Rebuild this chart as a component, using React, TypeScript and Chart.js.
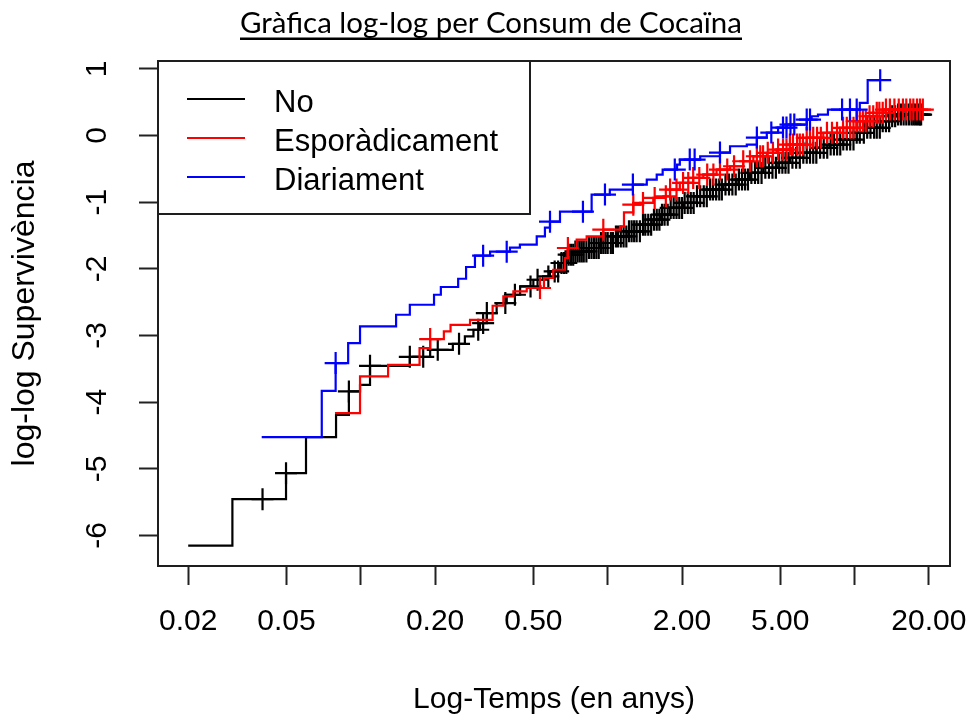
import React, { useEffect, useRef } from 'react';
import { Chart, registerables } from 'chart.js';

Chart.register(...registerables);

const FONT = '"Liberation Sans", Arial, Helvetica, sans-serif';

const chartTitle = 'Gràfica log-log per Consum de Cocaïna';
const xTitle = 'Log-Temps (en anys)';
const yTitle = 'log-log Supervivència';
const groups = ['No', 'Esporàdicament', 'Diariament'];
const colors = ['#000000', '#FF0000', '#0000FF'];

const xTicks = [0.02, 0.05, 0.1, 0.2, 0.5, 1, 2, 5, 10, 20];
const xTickLabels = ['0.02', '0.05', '', '0.20', '0.50', '', '2.00', '5.00', '', '20.00'];
const yTicks = [-6, -5, -4, -3, -2, -1, 0, 1];

// "No" group: step start times (years) and log-log survival values
const noTimes = [0.02, 0.0302, 0.0498, 0.06, 0.0794, 0.0895, 0.0993, 0.109, 0.158, 0.191, 0.236, 0.264, 0.286, 0.304, 0.324, 0.355, 0.39, 0.442, 0.5, 0.548, 0.584, 0.641, 0.682, 0.726, 0.822, 0.931, 1.054, 1.194, 1.352, 1.53, 1.629, 1.788, 2.024, 2.294, 2.596, 2.94, 3.33, 3.77, 4.27, 4.84, 5.47, 6.2, 7.02, 7.95, 9.0, 10.2, 11.2, 12.7, 13.9, 14.8];
const noValues = [-6.153, -5.456, -5.066, -4.526, -4.191, -3.84, -3.74, -3.455, -3.32, -3.215, -3.125, -3.015, -2.914, -2.814, -2.664, -2.514, -2.389, -2.264, -2.164, -2.114, -2.039, -1.913, -1.788, -1.739, -1.688, -1.613, -1.514, -1.438, -1.338, -1.263, -1.188, -1.087, -1.012, -0.913, -0.812, -0.737, -0.662, -0.562, -0.486, -0.411, -0.336, -0.261, -0.186, -0.137, -0.062, 0.039, 0.114, 0.213, 0.288, 0.314];
const noEnd = 18.6;
const noCensor = [0.04, 0.0498, 0.0895, 0.109, 0.158, 0.179, 0.205, 0.25, 0.299, 0.313, 0.324, 0.385, 0.421, 0.487, 0.52, 0.575, 0.61, 0.63, 0.65, 0.665, 0.68, 0.695, 0.71, 0.725, 0.74, 0.755, 0.77, 0.785, 0.8, 0.82, 0.84, 0.86, 0.88, 0.9, 0.92, 0.94, 0.96, 0.98, 1.0, 1.03, 1.05, 1.08, 1.1, 1.13, 1.16, 1.19, 1.22, 1.25, 1.28, 1.31, 1.35, 1.39, 1.42, 1.46, 1.5, 1.54, 1.58, 1.62, 1.66, 1.7, 1.75, 1.8, 1.85, 1.9, 1.95, 2.0, 2.05, 2.11, 2.17, 2.23, 2.3, 2.37, 2.45, 2.52, 2.6, 2.67, 2.75, 2.83, 2.9, 3.0, 3.1, 3.2, 3.3, 3.4, 3.5, 3.6, 3.7, 3.82, 3.95, 4.07, 4.2, 4.35, 4.5, 4.65, 4.8, 4.95, 5.1, 5.25, 5.4, 5.6, 5.8, 6.0, 6.2, 6.4, 6.6, 6.8, 7.0, 7.25, 7.5, 7.75, 8.0, 8.25, 8.5, 8.75, 9.0, 9.3, 9.6, 9.9, 10.2, 10.5, 10.9, 11.25, 11.6, 12.0, 12.3, 12.65, 13.0, 13.4, 13.8, 14.2, 14.6, 15.0, 15.4, 15.8, 16.2, 16.6, 17.0, 17.3, 17.6, 17.9, 18.2, 18.4, 18.6];

// "Esporàdicament" group
const spoTimes = [0.0786, 0.0993, 0.129, 0.173, 0.191, 0.217, 0.231, 0.277, 0.342, 0.378, 0.415, 0.47, 0.552, 0.602, 0.671, 0.688, 0.749, 0.822, 0.959, 1.122, 1.164, 1.27, 1.352, 1.53, 1.68, 1.788, 1.96, 2.22, 2.44, 2.76, 3.13, 3.54, 3.89, 4.41, 4.84, 5.47, 6.4, 7.47, 8.73, 10.2, 11.2, 12.3, 13.1];
const spoValues = [-4.165, -3.615, -3.44, -3.19, -3.054, -2.94, -2.84, -2.765, -2.554, -2.414, -2.339, -2.288, -2.138, -2.014, -1.838, -1.688, -1.563, -1.514, -1.413, -1.363, -1.153, -1.038, -1.012, -0.937, -0.913, -0.812, -0.712, -0.637, -0.587, -0.512, -0.462, -0.387, -0.312, -0.261, -0.212, -0.137, -0.036, 0.039, 0.114, 0.213, 0.288, 0.339, 0.389];
const spoEnd = 18.9;
const spoCensor = [0.191, 0.532, 0.69, 0.96, 1.27, 1.39, 1.55, 1.72, 1.79, 1.9, 2.02, 2.12, 2.22, 2.35, 2.53, 2.68, 2.85, 3.05, 3.25, 3.54, 3.77, 4.02, 4.15, 4.26, 4.45, 4.67, 4.9, 5.13, 5.3, 5.47, 5.63, 5.85, 6.0, 6.18, 6.4, 6.6, 6.8, 7.05, 7.3, 7.73, 8.1, 8.49, 8.98, 9.3, 9.59, 9.9, 10.2, 10.5, 10.8, 11.1, 11.5, 11.9, 12.3, 12.6, 13.0, 13.4, 13.9, 14.5, 15.1, 15.7, 16.2, 16.8, 17.3, 17.9, 18.4, 18.9];

// "Diariament" group
const diaTimes = [0.0397, 0.0695, 0.0791, 0.0889, 0.0993, 0.139, 0.158, 0.198, 0.211, 0.248, 0.267, 0.29, 0.334, 0.402, 0.441, 0.516, 0.557, 0.584, 0.641, 0.861, 1.02, 1.265, 1.44, 1.58, 1.67, 1.91, 1.96, 2.37, 2.85, 3.13, 3.66, 4.02, 4.41, 4.9, 5.31, 6.4, 6.7, 7.11, 7.8, 10.5, 11.3];
const diaValues = [-4.526, -3.83, -3.414, -3.114, -2.865, -2.689, -2.539, -2.389, -2.273, -2.149, -1.973, -1.803, -1.743, -1.683, -1.638, -1.514, -1.383, -1.293, -1.143, -0.887, -0.812, -0.737, -0.662, -0.587, -0.512, -0.437, -0.362, -0.312, -0.257, -0.162, -0.137, -0.032, 0.044, 0.119, 0.164, 0.239, 0.288, 0.314, 0.389, 0.489, 0.829];
const diaEnd = 12.7;
const diaCensor = [0.0791, 0.313, 0.39, 0.584, 0.794, 0.975, 1.265, 1.87, 2.15, 2.25, 2.85, 4.02, 4.6, 5.13, 5.3, 5.5, 5.7, 6.4, 6.6, 8.9, 9.58, 10.2, 12.7];

const series = [
  { label: groups[0], color: colors[0], times: noTimes, values: noValues, end: noEnd, censor: noCensor, order: 3 },
  { label: groups[1], color: colors[1], times: spoTimes, values: spoValues, end: spoEnd, censor: spoCensor, order: 2 },
  { label: groups[2], color: colors[2], times: diaTimes, values: diaValues, end: diaEnd, censor: diaCensor, order: 1 },
];

function valueAt(times: number[], values: number[], t: number) {
  let v = values[0];
  for (let i = 0; i < times.length; i++) if (times[i] <= t * 1.000001) v = values[i];
  return v;
}

const decorPlugin = {
  id: 'rDecor',
  afterDraw(chart: any) {
    const { ctx, chartArea: a } = chart;
    ctx.save();
    // plot frame
    ctx.strokeStyle = '#1e1e1e';
    ctx.lineWidth = 2;
    ctx.strokeRect(a.left, a.top, a.right - a.left, a.bottom - a.top);
    // legend box
    const lx = a.left;
    const ly = a.top;
    ctx.strokeRect(lx, ly, 372, 153);
    series.forEach((s, i) => {
      const y = ly + 38 + i * 39;
      ctx.strokeStyle = s.color;
      ctx.lineWidth = 2.2;
      ctx.beginPath();
      ctx.moveTo(lx + 29, y);
      ctx.lineTo(lx + 87, y);
      ctx.stroke();
      ctx.fillStyle = '#000';
      ctx.font = `31px ${FONT}`;
      ctx.textAlign = 'left';
      ctx.textBaseline = 'alphabetic';
      ctx.fillText(s.label, lx + 116, y + 13);
    });
    // title (underlined)
    ctx.font = '100px Lato';
    const w100 = ctx.measureText(chartTitle).width;
    const size = (100 * 502) / w100;
    ctx.font = `${size}px Lato`;
    ctx.fillStyle = '#000';
    ctx.textAlign = 'center';
    ctx.textBaseline = 'alphabetic';
    ctx.fillText(chartTitle, 491, 33);
    ctx.fillRect(240, 37.5, 502, 2.5);
    ctx.restore();
  },
};

export default function App() {
  const ref = useRef<HTMLCanvasElement | null>(null);
  useEffect(() => {
    if (!ref.current) return;
    const datasets: any[] = [];
    series.forEach((s) => {
      const pts = s.times.map((t, i) => ({ x: t, y: s.values[i] }));
      pts.push({ x: s.end, y: s.values[s.values.length - 1] });
      datasets.push({
        label: s.label,
        data: pts,
        borderColor: s.color,
        backgroundColor: s.color,
        borderWidth: 2.2,
        stepped: 'before',
        pointRadius: 0,
        fill: false,
        order: s.order,
      });
      datasets.push({
        label: s.label + ' (censurat)',
        data: s.censor.map((t) => ({ x: t, y: valueAt(s.times, s.values, t) })),
        showLine: false,
        pointStyle: 'cross',
        pointRadius: 11,
        pointBorderWidth: 2.2,
        pointBorderColor: s.color,
        borderColor: s.color,
        backgroundColor: s.color,
        order: s.order,
      });
    });

    const chart = new Chart(ref.current, {
      type: 'line',
      data: { datasets },
      plugins: [decorPlugin],
      options: {
        responsive: false,
        devicePixelRatio: 1,
        animation: false,
        layout: { padding: { top: 61, right: 21, left: 0, bottom: 0 } },
        plugins: { legend: { display: false }, tooltip: { enabled: false }, title: { display: false } },
        elements: { line: { tension: 0 } },
        scales: {
          x: {
            type: 'logarithmic',
            min: 0.01509,
            max: 24.35,
            afterBuildTicks: (s: any) => {
              s.ticks = xTicks.map((v) => ({ value: v }));
            },
            afterFit: (s: any) => {
              s.height = 154;
              s.paddingLeft = 0;
              s.paddingRight = 0;
            },
            ticks: {
              autoSkip: false,
              maxRotation: 0,
              minRotation: 0,
              padding: 19,
              color: '#000',
              font: { family: FONT, size: 30 },
              callback: (_v: any, i: number) => xTickLabels[i],
            },
            grid: { drawOnChartArea: false, drawTicks: true, tickLength: 19, tickWidth: 2, tickColor: '#222' },
            border: { display: false },
            title: { display: true, text: xTitle, color: '#000', font: { family: FONT, size: 30 }, padding: { top: 0, bottom: 2 } },
          },
          y: {
            type: 'linear',
            min: -6.458,
            max: 1.117,
            afterBuildTicks: (s: any) => {
              s.ticks = yTicks.map((v) => ({ value: v }));
            },
            afterFit: (s: any) => {
              s.width = 158;
              s.paddingTop = 0;
              s.paddingBottom = 0;
            },
            ticks: {
              autoSkip: false,
              minRotation: 90,
              maxRotation: 90,
              crossAlign: 'center',
              padding: 28,
              color: '#000',
              font: { family: FONT, size: 30 },
              callback: (v: any) => String(v),
            },
            grid: { drawOnChartArea: false, drawTicks: true, tickLength: 19, tickWidth: 2, tickColor: '#222' },
            border: { display: false },
            title: { display: true, text: yTitle, color: '#000', font: { family: FONT, size: 32 }, padding: { top: 6, bottom: 0 } },
          },
        },
      } as any,
    });
    return () => chart.destroy();
  }, []);

  return (
    <div style={{ position: 'absolute', left: 0, top: 0, width: 971, height: 720, background: '#fff' }}>
      <canvas ref={ref} width={971} height={720} style={{ display: 'block' }} />
    </div>
  );
}
